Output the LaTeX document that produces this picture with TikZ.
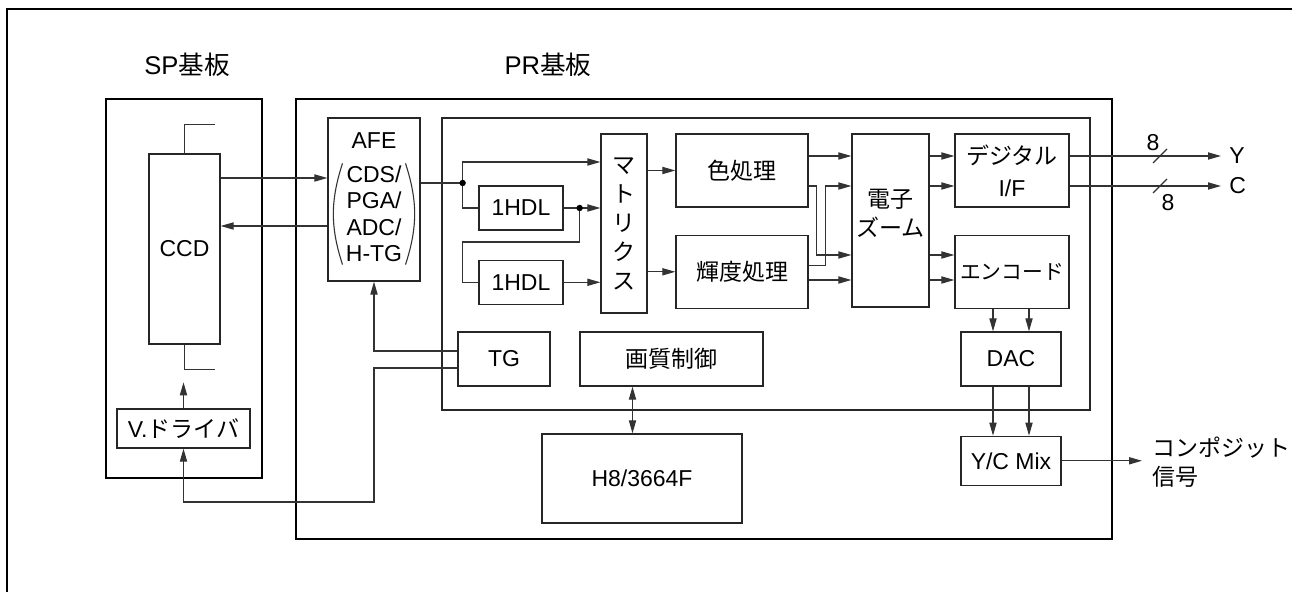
\documentclass[tikz,border=0pt]{standalone}
\usepackage{fontspec}
\setmainfont{Liberation Sans}
\newfontfamily\jp{Noto Sans CJK JP}
\usetikzlibrary{positioning,arrows.meta}

\begin{document}
\begin{tikzpicture}[x=0.5pt, y=-0.5pt, font=\fontsize{11.5}{14.5}\selectfont,
          arrowstyle/.style={-{Triangle[length=6.5pt, width=3.6pt]}, line width=0.55pt, draw=black!80},
          biarrow/.style={{Triangle[length=6.5pt, width=3.6pt]}-{Triangle[length=6.5pt, width=3.6pt]}, line width=0.55pt, draw=black!80},
          linestyle/.style={line width=0.55pt, draw=black!80},
          jptext/.style={font=\jp\fontsize{11.5}{14.5}\selectfont}]
          % Box styles
          \tikzstyle{boxnode} = [draw=black!85, rectangle, line width=0.65pt, text centered, inner sep=0pt]
          \tikzstyle{boardnode} = [draw=black, rectangle, line width=1.4pt, inner sep=0pt]

          \useasboundingbox (0,0) rectangle (1292,592);
          \draw[line width=1.4pt] (7,592) -- (7,9) -- (1292,9);

          % Boards
          \node (spboard) [boardnode, minimum width=78pt, minimum height=189.5pt] at (184,288.5) {};
          \node (prboard) [boardnode, minimum width=408pt, minimum height=220pt] at (704,319) {};
          \node (inner) [boxnode, minimum width=324pt, minimum height=146pt] at (766,264) {};
          \node (sptitle) [font=\fontsize{12.8}{15}\selectfont] at (187,65) {SP{\jp 基板}};
          \node (prtitle) [font=\fontsize{12.8}{15}\selectfont] at (548,65) {PR{\jp 基板}};

          % SP board
          \node (ccd) [boxnode, minimum width=35.5pt, minimum height=95pt] at (184.5,249) {CCD};
          \node (vdrv) [boxnode, minimum width=66.5pt, minimum height=19.5pt] at (183.5,428.5) {V.{\jp ドライバ}};

          % PR board
          \node (afe) [boxnode, minimum width=46pt, minimum height=81.5pt] at (374,199.5) {};
          \node (afename) at (374,141) {AFE};
          \node (afelist) [align=center, inner xsep=1.5pt, inner ysep=1pt, font=\fontsize{11.5}{13.25}\selectfont] at (374,214) {CDS/\\PGA/\\ADC/\\H-TG};
          \draw[linestyle] (afelist.north west) to[bend right=18] (afelist.south west);
          \draw[linestyle] (afelist.north east) to[bend left=18] (afelist.south east);
          \node (tg) [boxnode, minimum width=46pt, minimum height=27pt] at (504,359) {TG};
          \node (iq) [boxnode, jptext, minimum width=91.5pt, minimum height=27pt] at (671.5,359) {画質制御};
          \node (h8) [boxnode, minimum width=100pt, minimum height=44.5pt] at (642,478.5) {H8/3664F};
          \node (hdla) [boxnode, minimum width=42pt, minimum height=22pt] at (521,208) {1HDL};
          \node (hdlb) [boxnode, minimum width=42pt, minimum height=22pt, below=14.5pt of hdla] {1HDL};
          \node (matrix) [boxnode, jptext, align=center, minimum width=23pt, minimum height=89.5pt] at (624,223.5) {マ\\ト\\リ\\ク\\ス};
          \node (color) [boxnode, jptext, minimum width=66pt, minimum height=36.5pt] at (742,170.5) {色処理};
          \node (luma) [boxnode, jptext, minimum width=66pt, minimum height=36.5pt, below=13.5pt of color] {輝度処理};
          \node (ezoom) [boxnode, jptext, align=center, text depth=8pt, minimum width=38.5pt, minimum height=86.5pt] at (890.5,220.5) {電子\\ズーム};
          \node (digif) [boxnode, align=center, minimum width=57pt, minimum height=36.5pt, font=\fontsize{11.5}{16}\selectfont] at (1012,170.5) {{\jp デジタル}\\I/F};
          \node (enc) [boxnode, minimum width=57pt, minimum height=36.5pt, font=\jp\fontsize{10.4}{14.5}\selectfont, below=13.5pt of digif] {エンコード};
          \node (dac) [boxnode, minimum width=50pt, minimum height=27pt] at (1011,359) {DAC};
          \node (ycmix) [boxnode, minimum width=50pt, minimum height=24.5pt, below=24.5pt of dac] {Y/C Mix};

          % Outputs
          \node (yout) [anchor=west, inner sep=4pt] at (1221,156) {Y};
          \node (cout) [anchor=west, inner sep=4pt] at (1221,186) {C};
          \node (ybits) at (1153,143) {8};
          \node (cbits) at (1168,203) {8};
          \node (composite) [jptext, anchor=west, align=left, inner sep=5pt] at (1142,462) {コンポジット\\信号};

          % CCD <-> AFE
          \coordinate (ccdtx) at ([yshift=35.5pt]ccd.east);
          \draw[arrowstyle] (ccdtx) -- (ccdtx -| afe.west);
          \coordinate (afetx) at ([yshift=-13.25pt]afe.west);
          \draw[arrowstyle] (afetx) -- (afetx -| ccd.east);
          \draw[linestyle] (ccd.north) -- ++(0,-29) -- ++(30,0);
          \draw[linestyle] (ccd.south) -- ++(0,25) -- ++(30,0);
          \draw[arrowstyle] (vdrv.north) -- ++(0,-26);

          % TG to AFE and V.driver
          \draw[arrowstyle] ([yshift=4pt]tg.west) -| (afe.south);
          \coordinate (tgv) at ([yshift=-4.5pt]tg.west);
          \draw[arrowstyle] (tgv) -- (tgv -| afe.south) -- ++(0,134) -| (vdrv.south);

          % Control bus
          \coordinate (ctl) at ([xshift=-19.5pt]iq.south);
          \draw[biarrow] (ctl) -- (ctl |- h8.north);

          % AFE out and delay lines
          \coordinate (afeout) at ([yshift=8.25pt]afe.east);
          \coordinate (split) at ([xshift=21pt]afeout);
          \draw[linestyle] (afeout) -- (split);
          \coordinate (mtop) at ([yshift=30.75pt]matrix.west);
          \draw[arrowstyle] (split) |- (mtop);
          \draw[linestyle] (split) |- (hdla.west);
          \draw[arrowstyle] (hdla.east) -- (hdla.east -| matrix.west);
          \coordinate (tap) at ([xshift=8pt]hdla.east);
          \draw[linestyle] (tap) -- ++(0,34) -- ++(-117,0) |- (hdlb.west);
          \draw[arrowstyle] (hdlb.east) -- (hdlb.east -| matrix.west);
          \fill[black] (split) circle (1.6pt) (tap) circle (1.6pt);

          % Matrix to processing
          \draw[arrowstyle] (matrix.east |- color.west) -- (color.west);
          \draw[arrowstyle] (matrix.east |- luma.west) -- (luma.west);

          % Into the zoom
          \coordinate (zi1) at ([yshift=32.25pt]ezoom.west);
          \coordinate (zi2) at ([yshift=17.25pt]ezoom.west);
          \coordinate (zi3) at ([yshift=-17.25pt]ezoom.west);
          \coordinate (zi4) at ([yshift=-29.75pt]ezoom.west);
          \draw[arrowstyle] (zi1 -| color.east) -- (zi1);
          \draw[arrowstyle] ([yshift=-7.75pt]color.east) -- ++(8,0) |- (zi3);
          \draw[arrowstyle] ([yshift=3.25pt]luma.east) -- ++(17,0) |- (zi2);
          \draw[arrowstyle] (zi4 -| luma.east) -- (zi4);

          % Out of the zoom
          \draw[arrowstyle] (zi1 -| ezoom.east) -- (zi1 -| digif.west);
          \draw[arrowstyle] (zi2 -| ezoom.east) -- (zi2 -| digif.west);
          \draw[arrowstyle] (zi3 -| ezoom.east) -- (zi3 -| enc.west);
          \draw[arrowstyle] (zi4 -| ezoom.east) -- (zi4 -| enc.west);

          % Encoder, DAC, mix
          \coordinate (ea) at ([xshift=-9.5pt]enc.south);
          \coordinate (eb) at ([xshift=8.5pt]enc.south);
          \draw[arrowstyle] (ea) -- (ea |- dac.north);
          \draw[arrowstyle] (eb) -- (eb |- dac.north);
          \draw[arrowstyle] (ea |- dac.south) -- (ea |- ycmix.north);
          \draw[arrowstyle] (eb |- dac.south) -- (eb |- ycmix.north);
          \draw[arrowstyle] (ycmix.east) -- (ycmix.east -| composite.west);

          % Digital outputs
          \draw[arrowstyle] (zi1 -| digif.east) -- (yout.west);
          \draw[arrowstyle] (zi2 -| digif.east) -- (cout.west);
          \coordinate (ybus) at (1160,156);
          \coordinate (cbus) at (1160,186);
          \draw[linestyle] ([shift={(-3.5pt,-3.5pt)}]ybus) -- ([shift={(3.5pt,3.5pt)}]ybus);
          \draw[linestyle] ([shift={(-3.5pt,-3.5pt)}]cbus) -- ([shift={(3.5pt,3.5pt)}]cbus);
\end{tikzpicture}
\end{document}
